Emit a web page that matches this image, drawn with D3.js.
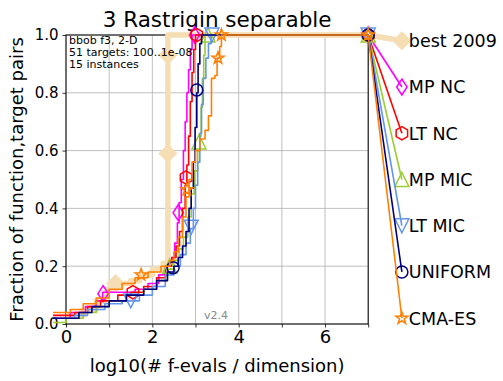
<!DOCTYPE html>
<html>
<head>
<meta charset="utf-8">
<script src="https://cdn.jsdelivr.net/npm/d3@7"></script>
<style>
  body { margin: 0; background: #fff; }
  svg { display: block; font-family: "DejaVu Sans", sans-serif; }
</style>
</head>
<body>
<svg id="chart" width="503" height="381"></svg>
<script>
// ---- chart content ----
const title = "3 Rastrigin separable";
const xLabel = "log10(# f-evals / dimension)";
const yLabel = "Fraction of function,target pairs";
const xTicks = [0, 1, 2, 3, 4, 5, 6, 7];
const xTickLabels = ["0", "", "2", "", "4", "", "6", ""];
const yTicks = [0, 0.2, 0.4, 0.6, 0.8, 1.0];
const yTickLabels = ["0.0", "0.2", "0.4", "0.6", "0.8", "1.0"];
const infoLines = ["bbob f3, 2-D", "51 targets: 100..1e-08", "15 instances"];
const versionLabel = "v2.4";
const maxBudget = 7;

const algNames   = ["best 2009", "MP NC", "LT NC", "MP MIC", "LT MIC", "UNIFORM", "CMA-ES"];
const algColors  = ["#f5deb3", "#ff00ff", "#ff0000", "#9acd32", "#6495ed", "#000080", "#ff7f00"];
const algSymbols = ["bigDiamond", "thinDiamond", "hexagon", "triangleUp", "triangleDown", "circle", "star"];

// ECDF of run lengths: [log10(evals/dim), fraction]
const best2009 = [[0,0.03],[0.4,0.05],[0.7,0.08],[0.95,0.12],[1.05,0.14],[1.5,0.15],[1.7,0.17],[2.0,0.19],[2.25,0.21],[2.36,1.0],[7,1.0]];
const mpNC     = [[-0.3,0.02],[0.1,0.04],[0.45,0.06],[0.7,0.08],[0.85,0.11],[1.6,0.12],[1.9,0.14],[2.15,0.17],[2.35,0.2],[2.45,0.23],[2.52,0.28],[2.58,0.35],[2.62,0.42],[2.67,0.5],[2.72,0.6],[2.76,0.7],[2.8,0.8],[2.84,0.88],[2.88,0.95],[2.92,1.0],[7,1.0]];
const ltNC     = [[-0.3,0.03],[0.2,0.04],[0.5,0.06],[0.8,0.08],[1.2,0.1],[1.5,0.11],[1.8,0.13],[2.1,0.16],[2.3,0.2],[2.45,0.23],[2.55,0.27],[2.63,0.32],[2.7,0.4],[2.76,0.48],[2.8,0.55],[2.84,0.65],[2.88,0.77],[2.92,0.87],[2.96,0.95],[3.0,1.0],[7,1.0]];
const mpMIC    = [[-0.3,0.005],[0.0,0.02],[0.4,0.04],[0.7,0.06],[1.0,0.08],[1.4,0.1],[1.8,0.12],[2.1,0.15],[2.35,0.19],[2.5,0.22],[2.62,0.26],[2.72,0.3],[2.82,0.37],[2.9,0.45],[2.97,0.53],[3.05,0.6],[3.1,0.65],[3.13,0.75],[3.16,0.85],[3.19,0.93],[3.22,1.0],[7,1.0]];
const ltMIC    = [[-0.3,0.02],[0.2,0.03],[0.5,0.05],[0.9,0.07],[1.3,0.08],[1.7,0.1],[2.0,0.13],[2.3,0.17],[2.5,0.2],[2.65,0.24],[2.78,0.28],[2.88,0.33],[2.95,0.4],[3.0,0.48],[3.05,0.56],[3.1,0.66],[3.14,0.76],[3.18,0.85],[3.24,0.92],[3.3,0.97],[3.36,1.0],[7,1.0]];
const uniform  = [[-0.3,0.02],[0.3,0.04],[0.6,0.06],[1.0,0.08],[1.4,0.1],[1.8,0.12],[2.1,0.15],[2.35,0.18],[2.5,0.2],[2.6,0.23],[2.7,0.27],[2.78,0.32],[2.85,0.4],[2.9,0.47],[2.95,0.56],[2.99,0.68],[3.03,0.8],[3.06,0.9],[3.1,0.97],[3.14,1.0],[7,1.0]];
const cmaES    = [[-0.3,0.04],[0.1,0.05],[0.4,0.07],[0.7,0.09],[1.0,0.12],[1.3,0.14],[1.6,0.16],[1.9,0.18],[2.2,0.2],[2.4,0.22],[2.5,0.25],[2.6,0.3],[2.7,0.37],[2.78,0.44],[2.85,0.5],[2.92,0.56],[3.0,0.6],[3.1,0.64],[3.22,0.67],[3.3,0.72],[3.37,0.85],[3.45,0.86],[3.5,0.92],[3.56,0.96],[3.6,1.0],[7,1.0]];

// marker positions along each curve
const best2009Marks = [[1.15,0.14],[2.36,0.59],[2.36,0.93]];
const mpNCMarks     = [[0.86,0.105],[2.6,0.385],[2.98,1.0],[7,1.0]];
const ltNCMarks     = [[1.55,0.11],[2.78,0.507],[3.03,1.0],[7,1.0]];
const mpMICMarks    = [[2.4,0.2],[3.08,0.63],[3.29,1.0],[7,1.0]];
const ltMICMarks    = [[1.5,0.08],[2.9,0.335],[3.38,1.0],[7,1.0]];
const uniformMarks  = [[2.48,0.195],[3.03,0.81],[7,1.0]];
const cmaESMarks    = [[1.74,0.17],[2.8,0.465],[3.52,0.92],[3.6,1.0],[7,1.0]];

const algSeries = [best2009, mpNC, ltNC, mpMIC, ltMIC, uniform, cmaES];
const algMarks  = [best2009Marks, mpNCMarks, ltNCMarks, mpMICMarks, ltMICMarks, uniformMarks, cmaESMarks];

// ---- drawing ----
const svg = d3.select("#chart");
svg.append("rect").attr("width", 503).attr("height", 381).attr("fill", "#fff");

const x = d3.scaleLinear().domain([0, 7]).range([66, 368.2]);
const y = d3.scaleLinear().domain([0, 1]).range([324, 35]);

// grid
const grid = svg.append("g").attr("stroke", "#b0b0b0").attr("stroke-width", 0.8);
grid.selectAll("line.vx").data(xTicks).join("line")
  .attr("x1", d => x(d)).attr("x2", d => x(d)).attr("y1", y(0)).attr("y2", y(1));
grid.selectAll("line.hy").data(yTicks).join("line")
  .attr("x1", x(0)).attr("x2", x(7)).attr("y1", d => y(d)).attr("y2", d => y(d));

// axes
const xAxis = d3.axisBottom(x).tickValues(xTicks).tickFormat((d, i) => xTickLabels[i]).tickSize(3.5).tickPadding(3);
const yAxis = d3.axisLeft(y).tickValues(yTicks).tickFormat((d, i) => yTickLabels[i]).tickSize(3.5).tickPadding(4);
const gx = svg.append("g").attr("transform", `translate(0,${y(0)})`).call(xAxis);
gx.select(".domain").remove();
gx.selectAll("text").attr("font-size", 18).attr("font-family", "DejaVu Sans").attr("fill", "#000");
gx.selectAll("line").attr("stroke", "#000").attr("stroke-width", 0.8);
const gy = svg.append("g").attr("transform", `translate(${x(0)},0)`).call(yAxis);
gy.select(".domain").remove();
gy.selectAll("text").attr("font-size", 15).attr("font-family", "DejaVu Sans").attr("fill", "#000");
gy.selectAll("line").attr("stroke", "#000").attr("stroke-width", 0.8);

// frame
svg.append("rect").attr("x", x(0)).attr("y", y(1)).attr("width", x(7) - x(0)).attr("height", y(0) - y(1))
  .attr("fill", "none").attr("stroke", "#000").attr("stroke-width", 1);

// labels
svg.append("text").attr("x", (x(0) + x(7)) / 2).attr("y", 27).attr("text-anchor", "middle")
  .attr("font-size", 21.5).text(title);
svg.append("text").attr("x", (x(0) + x(7)) / 2).attr("y", 371.5).attr("text-anchor", "middle")
  .attr("font-size", 18).text(xLabel);
svg.append("text").attr("transform", `translate(23,${(y(0) + y(1)) / 2}) rotate(-90)`).attr("text-anchor", "middle")
  .attr("font-size", 18).text(yLabel);

// marker shapes
function shapePath(kind) {
  const poly = pts => "M" + pts.map(p => p.join(",")).join("L") + "Z";
  switch (kind) {
    case "bigDiamond": return poly([[0,-9],[9,0],[0,9],[-9,0]]);
    case "thinDiamond": return poly([[0,-8],[5.2,0],[0,8],[-5.2,0]]);
    case "hexagon": return poly(d3.range(6).map(k => { const a = (-90 + 60 * k) * Math.PI / 180; return [6.6 * Math.cos(a), 6.6 * Math.sin(a)]; }));
    case "triangleUp": return poly([[0,-7],[7,7],[-7,7]]);
    case "triangleDown": return poly([[0,7],[7,-7],[-7,-7]]);
    case "circle": return "M6,0A6,6 0 1,1 -6,0A6,6 0 1,1 6,0Z";
    case "star": return poly(d3.range(10).map(k => { const a = (-90 + 36 * k) * Math.PI / 180, r = k % 2 ? 2.5 : 6.3; return [r * Math.cos(a), r * Math.sin(a)]; }));
  }
}

const line = d3.line().x(d => x(d[0])).y(d => y(d[1])).curve(d3.curveStepAfter);
const legendX = 7.78;
const legendY = algNames.map((d, i) => 0.98 - i * 0.16);

algNames.forEach((name, i) => {
  const isRef = i === 0;
  const g = svg.append("g");
  const col = algColors[i];
  const lw = isRef ? 5.5 : 1.6;
  g.append("path").datum(algSeries[i]).attr("d", line)
    .attr("fill", "none").attr("stroke", col).attr("stroke-width", lw).attr("stroke-linejoin", "round");
  // connector to the label
  g.append("line").attr("x1", x(maxBudget)).attr("y1", y(1)).attr("x2", x(legendX)).attr("y2", y(legendY[i]))
    .attr("stroke", col).attr("stroke-width", lw);
  const pts = algMarks[i].concat([[legendX, legendY[i]]]);
  g.selectAll("path.mk").data(pts).join("path").attr("class", "mk")
    .attr("transform", d => `translate(${x(d[0])},${y(d[1])})`)
    .attr("d", shapePath(algSymbols[i]))
    .attr("fill", isRef ? col : "none").attr("stroke", col).attr("stroke-width", isRef ? 1 : 1.5);
  g.append("text").attr("x", x(legendX) + 7).attr("y", y(legendY[i])).attr("dy", "0.36em")
    .attr("font-size", 17.5).attr("fill", "#000").text(name);
});

// annotation text sits above the curves
svg.selectAll("text.info").data(infoLines).join("text").attr("class", "info")
  .attr("x", x(0) + 3).attr("y", (d, i) => 44 + i * 11.8).attr("font-size", 11).text(d => d);
svg.append("text").attr("x", 228).attr("y", 319).attr("text-anchor", "end").attr("font-size", 11)
  .attr("fill", "#888").text(versionLabel);
</script>
</body>
</html>
